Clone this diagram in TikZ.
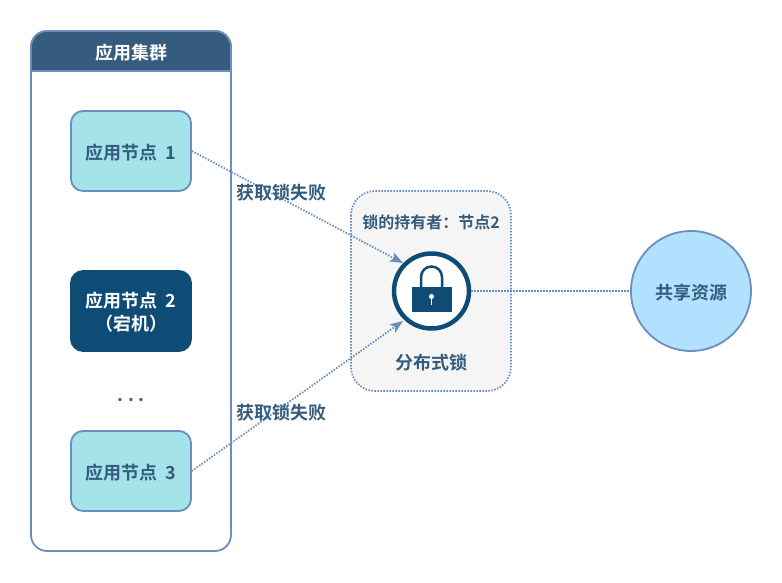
\documentclass[tikz,border=0pt]{standalone}
\usepackage{fontspec}
\setmainfont{Noto Sans CJK SC}[BoldFont={* Bold}]
\usepackage{xcolor}
\usetikzlibrary{arrows.meta}
\definecolor{edgeblue}{HTML}{6C8EBF}
\definecolor{headblue}{HTML}{355C7D}
\definecolor{deepblue}{HTML}{0F4C75}
\definecolor{nodecyan}{HTML}{A5E3EA}
\definecolor{skyblue}{HTML}{B1E1FF}
\definecolor{lockgray}{HTML}{F5F5F5}
\newcommand{\lowtext}[1]{\raisebox{-1.5pt}[\height][\depth]{#1}}
\tikzset{
  txtlabel/.style={font=\fontsize{18}{22}\selectfont\bfseries,text=headblue,inner sep=0pt},
  appnode/.style={draw=edgeblue,line width=1.8pt,fill=nodecyan,rounded corners=12pt,minimum width=120pt,minimum height=80pt,align=center,font=\fontsize{18}{23}\selectfont\bfseries,text=headblue},
  deadnode/.style={appnode,draw=deepblue,fill=deepblue,text=white},
  dotline/.style={draw=edgeblue,line width=1.8pt,dash pattern=on 1.5pt off 1.5pt},
  failarrow/.style={dotline,-{Stealth[length=13pt,width=10pt,inset=3pt,fill=edgeblue]}}
}
\begin{document}
\begin{tikzpicture}[x=1pt,y=-1pt]
\useasboundingbox (0,0) rectangle (782,582);
\draw[edgeblue,line width=1.8pt,fill=white,rounded corners=16pt] (31,31) rectangle (231,551);
\draw[edgeblue,line width=1.8pt,fill=headblue] (31,71) -- (31,47) arc[start angle=180,end angle=90,radius=16pt] -- (215,31) arc[start angle=90,end angle=0,radius=16pt] -- (231,71) -- cycle;
\node[txtlabel,text=white] (title) at (131,53) {应用集群};
\node[appnode] (nodea) at (131,151) {\lowtext{应用节点\ \ 1}};
\node[deadnode] (nodeb) at (131,311) {\lowtext{应用节点\ \ 2}\\\lowtext{（宕机）}};
\node[txtlabel] (more) at (131,400) {.\hspace{5pt}.\hspace{5pt}.};
\node[appnode] (nodec) at (131,471) {\lowtext{应用节点\ \ 3}};
\draw[dotline,fill=lockgray,rounded corners=24pt] (351,191) rectangle (511,391);
\node[txtlabel,font=\fontsize{16}{20}\selectfont\bfseries] (owner) at (431,222) {锁的持有者：节点2};
\node[txtlabel] (lockname) at (431,363) {分布式锁};
\node[draw=deepblue,line width=4.5pt,circle,fill=white,inner sep=0pt,minimum size=75pt] (lockring) at (431.5,291) {};
\fill[deepblue] (411.5,287) rectangle (451.5,312);
\draw[deepblue,line width=2.5pt] (421,287) -- (421,277) arc[start angle=180,end angle=0,radius=10.5pt] -- (442,287);
\fill[white] (431.5,296.5) circle[radius=2.5pt];
\fill[white] (430.8,297) rectangle (432.2,305);
\node[draw=edgeblue,line width=1.8pt,circle,fill=skyblue,inner sep=0pt,minimum size=120pt,font=\fontsize{18}{22}\selectfont\bfseries,text=headblue] (resource) at (691,291) {\lowtext{共享资源}};
\coordinate (tipa) at (403,263);
\coordinate (tipc) at (403,321);
\draw[failarrow] (nodea.east) -- (tipa);
\draw[failarrow] (nodec.east) -- (tipc);
\draw[dotline] (lockring.east) -- (resource.west);
\node[txtlabel] (faila) at (281,193) {获取锁失败};
\node[txtlabel] (failc) at (281,413) {获取锁失败};
\end{tikzpicture}
\end{document}
